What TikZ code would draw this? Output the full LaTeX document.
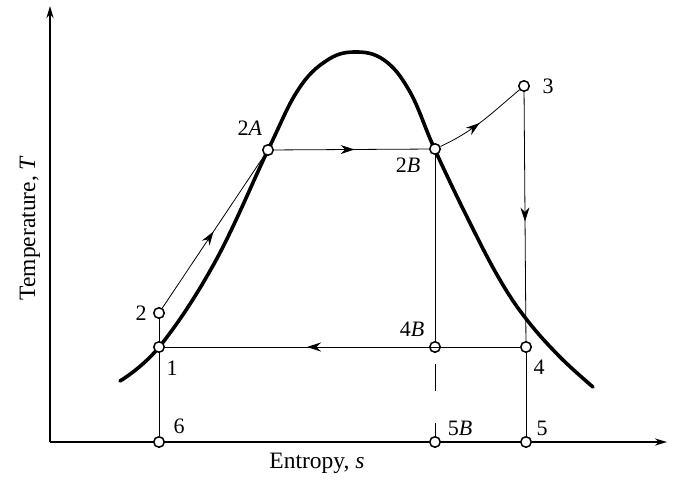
\documentclass[tikz,border=0pt]{standalone}
\usepackage{fontspec}
\setmainfont{Liberation Serif}
\usetikzlibrary{arrows.meta,decorations.markings}
\tikzset{
  pt/.style={circle,draw,fill=white,inner sep=0pt,minimum size=10.5pt,line width=1.5pt},
  lbl/.style={inner sep=0pt,font=\fontsize{22}{24}\selectfont},
  thinl/.style={line width=0.8pt},
  midarrow/.style={postaction={decorate},decoration={markings,
     mark=at position #1 with {\arrow{Stealth[length=14pt,width=9pt]}}}},
  axis/.style={line width=2pt,-{Stealth[length=12pt,width=7pt]}},
  dome/.style={line width=3.6pt,line cap=round}
}
\begin{document}
\begin{tikzpicture}[x=1pt,y=-1pt]
\useasboundingbox (0,0) rectangle (677,481);
% axes
\coordinate (O) at (50,442);
\coordinate (Ytop) at (50,6);
\coordinate (Xend) at (667,442);
\draw[axis] (O) -- (Ytop);
\draw[axis] (O) -- (Xend);
\node[font=\fontsize{23.5}{25}\selectfont,rotate=90] (tlab) at (30,228) {Temperature, \textit{T}};
\node[font=\fontsize{23.5}{25}\selectfont] (slab) at (317,463) {Entropy, \textit{s}};
% saturation dome
\draw[dome] plot[smooth,tension=0.65] coordinates {(120,381) (160,346) (215,262) (268,150) (298,90) (326,61) (354,52) (384,60) (410,92) (435,150) (470,223) (500,280) (527,320) (560,357) (593,387)};
% state points
\node[pt] (p2) at (159,313) {};
\node[pt] (p1) at (159,347) {};
\node[pt] (p6) at (159,442) {};
\node[pt] (p2A) at (268,150) {};
\node[pt] (p2B) at (435,149) {};
\node[pt] (p3) at (524,86) {};
\node[pt] (p4B) at (435,347) {};
\node[pt] (p4) at (526,347) {};
\node[pt] (p5B) at (435,442) {};
\node[pt] (p5) at (526,442) {};
% process lines
\draw[thinl,midarrow=0.5] (p2) -- (p2A);
\draw[thinl,midarrow=0.52] (p2A) -- (p2B);
\draw[thinl,midarrow=0.47] (p2B) to[out=25,in=220] (p3);
\draw[thinl,midarrow=0.52] (p3) -- (p4);
\draw[thinl,midarrow=0.6] (p4) -- (p1);
\draw[thinl] (p1) -- (p2);
\draw[thinl] (p1) -- (p6);
\draw[thinl] (p2B) -- (p4B);
\draw[thinl,dash pattern=on 27pt off 32pt,dash phase=48pt] (p4B) -- (p5B);
\draw[thinl] (p4) -- (p5);
% labels
\node[lbl] (l2) at (141,313) {2};
\node[lbl] (l1) at (172,368) {1};
\node[lbl] (l6) at (179,426) {6};
\node[lbl] (l2A) at (250,128) {2\textit{A}};
\node[lbl] (l2B) at (408,165) {2\textit{B}};
\node[lbl] (l3) at (548,86) {3};
\node[lbl] (l4B) at (412,329) {4\textit{B}};
\node[lbl] (l4) at (539,367) {4};
\node[lbl] (l5B) at (460,428) {5\textit{B}};
\node[lbl] (l5) at (542,428) {5};
\end{tikzpicture}
\end{document}
